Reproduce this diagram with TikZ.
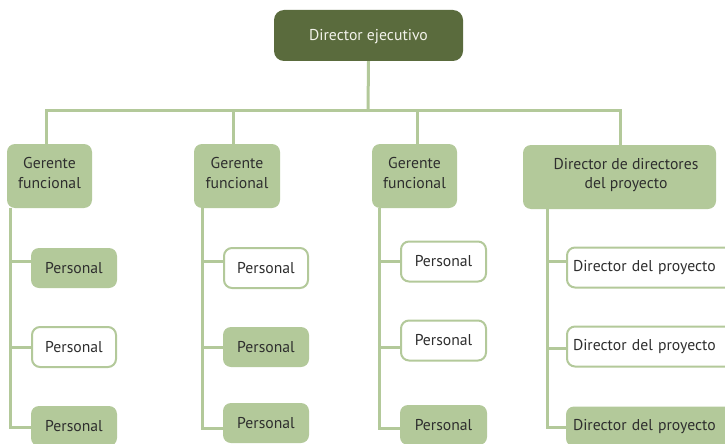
\documentclass[tikz,border=0pt]{standalone}
\usepackage{fontspec}
\setmainfont{PT Sans}
\usetikzlibrary{calc}
\definecolor{leaf}{HTML}{B3C99A}
\definecolor{moss}{HTML}{5A6B3D}
\definecolor{ink}{HTML}{2E2E2E}
\definecolor{pale}{HTML}{F2F2EA}
\begin{document}
\begin{tikzpicture}[x=1pt,y=-1pt,
  font=\fontsize{15.7}{19.5}\selectfont,
  boxbase/.style={rounded corners=8pt, inner sep=0pt, align=center, text=ink},
  topbox/.style={boxbase, fill=moss, text=pale, minimum width=189pt, minimum height=51pt, rounded corners=10pt, text height=14pt},
  mgrbox/.style={boxbase, fill=leaf, minimum height=64pt, text depth=6pt},
  fullbox/.style={boxbase, fill=leaf, minimum height=40pt},
  openbox/.style={boxbase, fill=white, draw=leaf, line width=2pt, minimum height=40pt},
  pmtext/.style={text width=158pt, align=left},
  link/.style={draw=leaf, line width=3pt}]
\useasboundingbox (0,0) rectangle (725,444);
\clip (0,0) rectangle (725,444);

% top of the chart
\node[topbox] (ceo) at (368.5,35.5) {Director ejecutivo};

% functional managers and project management office
\node[mgrbox, minimum width=85pt] (g1) at (49.5,176) {Gerente\\funcional};
\node[mgrbox, minimum width=86pt] (g2) at (237,176) {Gerente\\funcional};
\node[mgrbox, minimum width=85pt] (g3) at (414.5,176) {Gerente\\funcional};
\node[mgrbox, minimum width=193pt, text depth=7pt] (g4) at (619.5,177)
  {\hspace*{13pt}Director de directores\\\hspace*{13pt}del proyecto};

% staff, column 1
\node[fullbox, minimum width=86pt] (a1) at (74,268) {Personal};
\node[openbox, minimum width=84pt] (a2) at (74,347) {Personal};
\node[fullbox, minimum width=86pt] (a3) at (74,426) {Personal};
% staff, column 2
\node[openbox, minimum width=84pt] (b1) at (266,268) {Personal};
\node[fullbox, minimum width=86pt] (b2) at (266,347) {Personal};
\node[fullbox, minimum width=86pt] (b3) at (266,423) {Personal};
% staff, column 3
\node[openbox, minimum width=85pt] (c1) at (443.5,261.5) {Personal};
\node[openbox, minimum width=85pt] (c2) at (443.5,340.5) {Personal};
\node[fullbox, minimum width=87pt] (c3) at (443.5,425) {Personal};
% project managers
\node[openbox, minimum width=170pt, pmtext] (d1) at (652,267.5) {Director del proyecto};
\node[openbox, minimum width=170pt, pmtext] (d2) at (652,346.5) {Director del proyecto};
\node[fullbox, minimum width=172pt, pmtext] (d3) at (652,426.5) {Director del proyecto};

% bus from the top box to the four managers
\coordinate (bus) at (368,110);
\draw[link] (ceo.south) -- (bus);
\draw[link] ([xshift=-3pt]g1.north) |- ([xshift=0.5pt]g4.north |- bus) -- ([xshift=0.5pt]g4.north);
\draw[link] ([xshift=-4pt]g2.north) -- ([xshift=-4pt]g2.north |- bus);
\draw[link] ([xshift=2.5pt]g3.north) -- ([xshift=2.5pt]g3.north |- bus);

% trunks and branches down each column
\coordinate (t1) at (10,208);
\coordinate (t2) at (202,208);
\coordinate (t3) at (379,208);
\coordinate (t4) at (547,209);
\draw[link] ([yshift=-1pt]a3.west) -| (t1);
\draw[link] ([yshift=7pt]a1.west) -| (t1);
\draw[link] (a2.west) -| (t1);
\draw[link] ([yshift=-5pt]b3.west) -| (t2);
\draw[link] ([yshift=7pt]b1.west) -| (t2);
\draw[link] (b2.west) -| (t2);
\draw[link] ([yshift=-3pt]c3.west) -| (t3);
\draw[link] (c1.west) -| (t3);
\draw[link] ([yshift=-6.5pt]c2.west) -| (t3);
\draw[link] ([yshift=-0.5pt]d3.west) -| (t4);
\draw[link] ([yshift=6.5pt]d1.west) -| (t4);
\draw[link] ([yshift=-1.5pt]d2.west) -| (t4);
\end{tikzpicture}
\end{document}
